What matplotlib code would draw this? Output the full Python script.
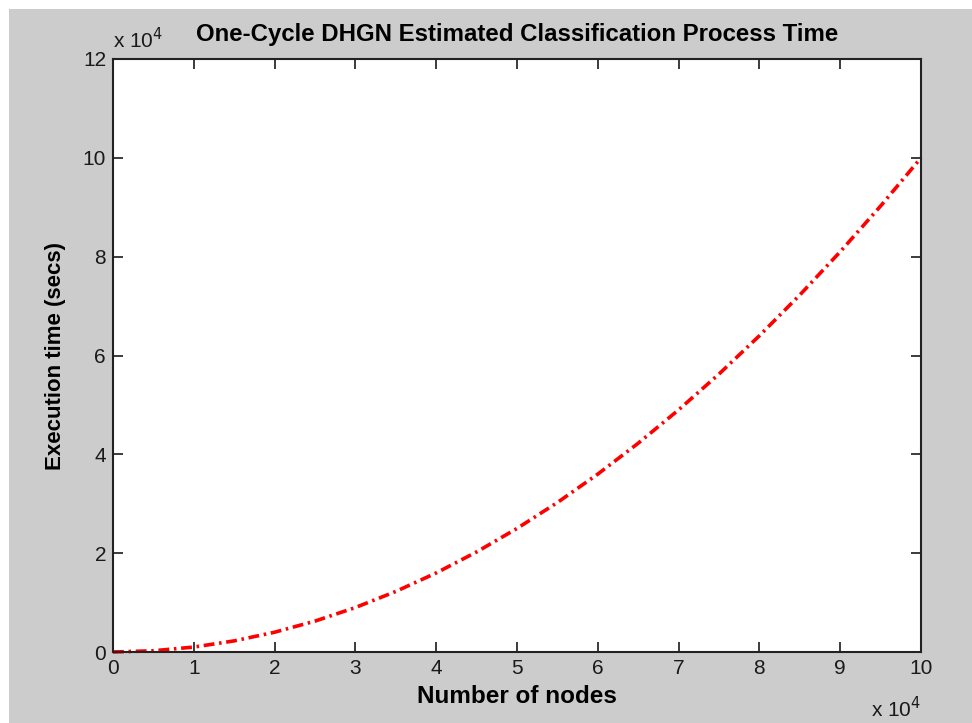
import numpy as np
import matplotlib
matplotlib.use("Agg")
import matplotlib.pyplot as plt
from matplotlib.patches import Rectangle

# one point every 5000 nodes
nodes = [0, 5000, 10000, 15000, 20000, 25000, 30000, 35000, 40000, 45000, 50000,
         55000, 60000, 65000, 70000, 75000, 80000, 85000, 90000, 95000, 100000]
exec_time = [0, 250, 1000, 2250, 4000, 6250, 9000, 12250, 16000, 20250, 25000,
             30250, 36000, 42250, 49000, 56250, 64000, 72250, 81000, 90250, 100000]

x_ticks = [0, 1, 2, 3, 4, 5, 6, 7, 8, 9, 10]
y_ticks = [0, 2, 4, 6, 8, 10, 12]

plt.rcParams['font.family'] = ['Liberation Sans', 'DejaVu Sans']

fig = plt.figure(figsize=(9.72, 7.23), dpi=100, facecolor='white')
# gray figure area, white margin on the top and left
fig.patches.append(Rectangle((9 / 972, 0), 1, 1 - 9 / 723, transform=fig.transFigure,
                             facecolor='#cccccc', edgecolor='none', zorder=-10))

ax = fig.add_axes([113 / 972, 71 / 723, 808 / 972, 593 / 723])
ax.set_facecolor('white')

x = np.array(nodes) / 1e4
y = np.array(exec_time) / 1e4
ax.plot(x, y, color='red', linewidth=2.6, linestyle=(0, (3.0, 1.3, 0.7, 1.3)),
        clip_on=False)

ax.set_xlim(0, 10)
ax.set_ylim(0, 12)
ax.set_xticks(x_ticks)
ax.set_yticks(y_ticks)
ax.tick_params(direction='in', length=7, width=1.2, top=True, right=True,
               labelsize=15, colors='#1a1a1a', pad=5)
for s in ax.spines.values():
    s.set_linewidth(1.5)
    s.set_color('#222222')

ax.set_xlabel('Number of nodes', fontsize=17.5, fontweight='bold', labelpad=5)
ax.set_ylabel('Execution time (secs)', fontsize=16, fontweight='bold', labelpad=12)
ax.set_title('One-Cycle DHGN Estimated Classification Process Time',
             fontsize=17.3, fontweight='bold', pad=13)

# exponent labels like the matlab axes
ax.text(0.0, 1.012, r'x 10$^{4}$', transform=ax.transAxes, fontsize=15,
        ha='left', va='bottom', color='#1a1a1a')
fig.text(921 / 972, 6 / 723, r'x 10$^{4}$', fontsize=15,
         ha='right', va='baseline', color='#1a1a1a')

fig.savefig('out.png', dpi=100, facecolor=fig.get_facecolor())
